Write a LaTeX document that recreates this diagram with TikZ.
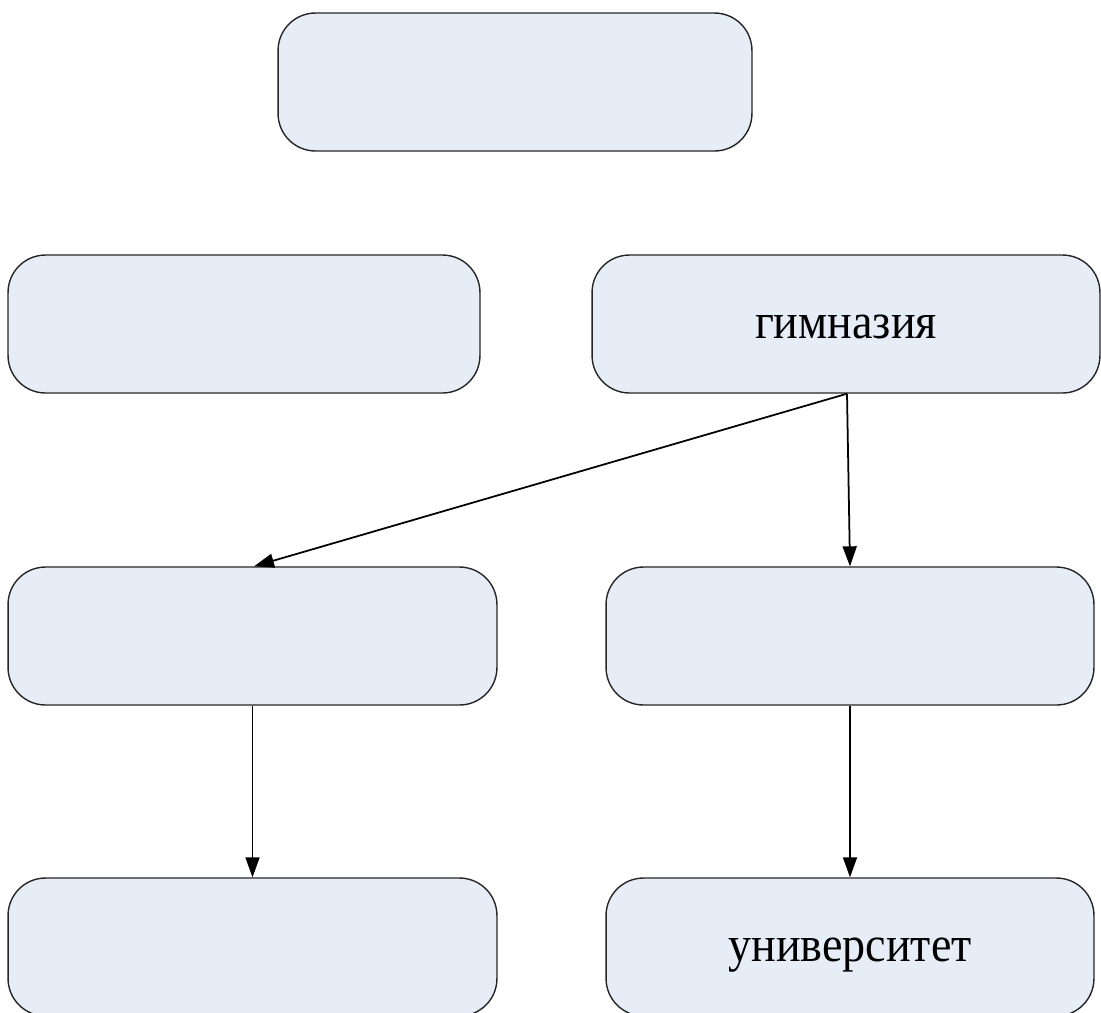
\documentclass[tikz,border=0pt]{standalone}
\usepackage{fontspec}
\setmainfont{Liberation Serif}
\newfontfamily\stagefont[FakeStretch=0.92]{Liberation Serif}
\usepackage{tikz}
\usetikzlibrary{positioning,arrows.meta}
\definecolor{boxfill}{HTML}{E6EDF7}

\begin{document}
\begin{tikzpicture}[x=0.02cm,y=-0.02cm]
		\tikzstyle{every node}+=[inner sep=0pt]
		\tikzstyle{stage}=[draw=black!85, fill=boxfill, line width=0.8pt, rounded corners=0.75cm, minimum height=2.76cm, text height=0.56cm, text depth=0cm, font=\stagefont\fontsize{28.5}{33}\selectfont]
		\tikzstyle{link}=[line width=1pt, -{Triangle[length=0.4cm,width=0.28cm]}]
		\useasboundingbox (0,0) rectangle (1101,1012);
		\node [stage, minimum width=9.48cm] (top) at (515,82) {};
		\node [stage, minimum width=9.44cm] (midl) at (244,324) {};
		\node [stage, minimum width=10.16cm] (gym) at (846,324) {гимназия};
		\node [stage, minimum width=9.78cm] (rowl) at (252.5,636) {};
		\node [stage, minimum width=9.76cm] (rowr) at (850,636) {};
		\node [stage, minimum width=9.78cm] (lowl) at (252.5,947) {};
		\node [stage, minimum width=9.76cm] (univ) at (850,947) {университет};
		\draw [link] ([xshift=0.02cm]gym.south) -- ([xshift=0.03cm]rowl.north);
		\draw [link] ([xshift=0.02cm]gym.south) -- (rowr.north);
		\draw [link] (rowl.south) -- (lowl.north);
		\draw [link] (rowr.south) -- (univ.north);
\end{tikzpicture}
\end{document}
